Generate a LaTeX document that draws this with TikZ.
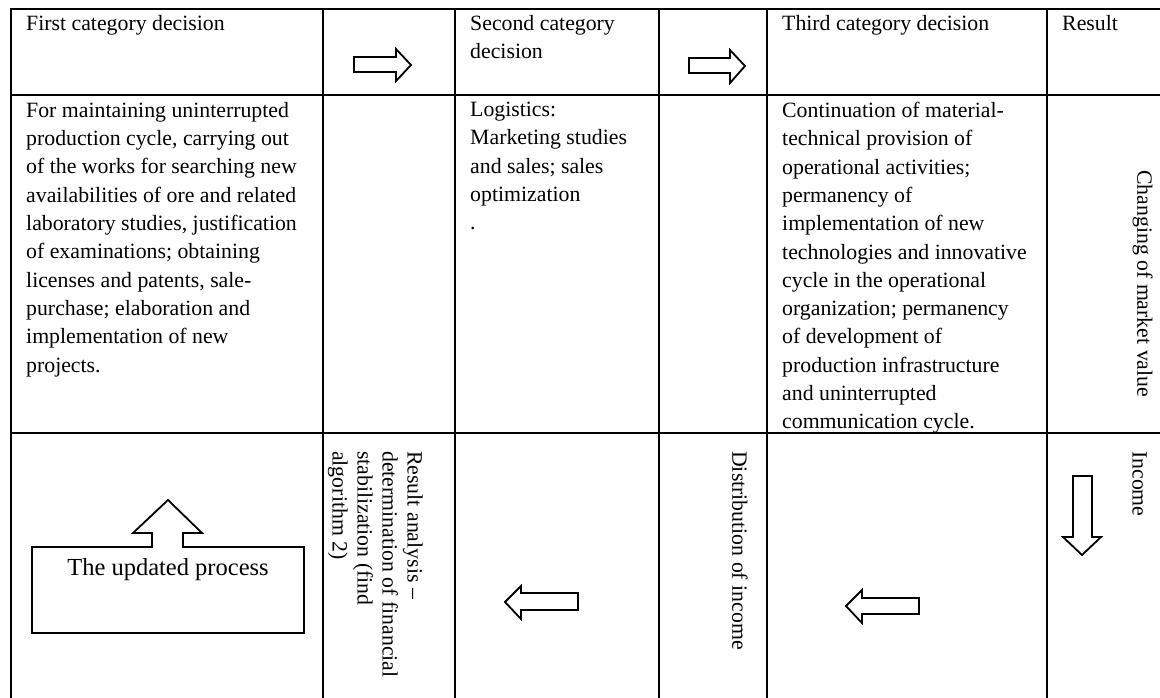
\documentclass[tikz,border=0pt]{standalone}
\usepackage{fontspec}
\setmainfont{Liberation Serif}

\begin{document}
\begin{tikzpicture}[x=1pt, y=-1pt,
    gridline/.style={line width=2.6pt},
    blockarrow/.style={line width=1.8pt, line join=miter, fill=white},
    celltext/.style={anchor=north west, inner sep=0pt, align=left, font=\fontsize{21.8}{28.3}\selectfont},
    sidetext/.style={anchor=north west, inner sep=0pt, align=left, rotate=-90, font=\fontsize{21.8}{25}\selectfont}]
    \useasboundingbox (0,0) rectangle (1160,698);
    % table grid, right and bottom edges are cut off
    \draw[gridline] (1160,9) -- (11,9) -- (11,698);
    \draw[gridline] (11,95) -- (1160,95);
    \draw[gridline] (11,433) -- (1160,433);
    \foreach \xc in {323,455,659,767,1047}
        \draw[gridline] (\xc,9) -- (\xc,698);

    % header row
    \node[celltext] (first) at (26,15) {First category decision};
    \node[celltext] (second) at (470,15) {Second category\\decision};
    \node[celltext] (third) at (782,15) {Third category decision};
    \node[celltext] (result) at (1062,15) {Result};
    \draw[blockarrow] (354,57) -- (396,57) -- (396,49) -- (411,65) -- (396,81) -- (396,72) -- (354,72) -- cycle;
    \draw[blockarrow] (689,58) -- (730,58) -- (730,50) -- (745,66) -- (730,83) -- (730,73) -- (689,73) -- cycle;

    % middle row
    \node[celltext] (firstbody) at (26,102) {For maintaining uninterrupted\\production cycle, carrying out\\of the works for searching new\\availabilities of ore and related\\laboratory studies, justification\\of examinations; obtaining\\licenses and patents, sale-\\purchase; elaboration and\\implementation of new\\projects.};
    \node[celltext] (secondbody) at (470,102) {Logistics:\\Marketing studies\\and sales; sales\\optimization\\.};
    \node[celltext] (thirdbody) at (782,102) {Continuation of material-\\technical provision of\\operational activities;\\permanency of\\implementation of new\\technologies and innovative\\cycle in the operational\\organization; permanency\\of development of\\production infrastructure\\and uninterrupted\\communication cycle.};
    \node[sidetext] (marketvalue) at (1153,170) {Changing of market value};

    % bottom row
    \draw[blockarrow] (32,633) -- (32,547) -- (152,547) -- (152,533) -- (133,533) -- (168,500) -- (202,533) -- (183,533) -- (183,547) -- (304,547) -- (304,633) -- cycle;
    \node[inner sep=0pt, anchor=base, font=\fontsize{24.5}{28}\selectfont] (updated) at (168,575) {The updated process};
    \node[sidetext] (analysis) at (423,451) {Result analysis –\\determination of financial\\stabilization (find\\algorithm 2)};
    \draw[blockarrow] (505,602) -- (521,586) -- (521,593) -- (578,593) -- (578,610) -- (521,610) -- (521,619) -- cycle;
    \node[sidetext] (distribution) at (748,451) {Distribution of income};
    \draw[blockarrow] (846,606) -- (862,590) -- (862,598) -- (919,598) -- (919,614) -- (862,614) -- (862,623) -- cycle;
    \draw[blockarrow] (1073,476) -- (1092,476) -- (1092,537) -- (1101,537) -- (1082,555) -- (1063,537) -- (1073,537) -- cycle;
    \node[sidetext] (income) at (1147,451) {Income};
\end{tikzpicture}
\end{document}
